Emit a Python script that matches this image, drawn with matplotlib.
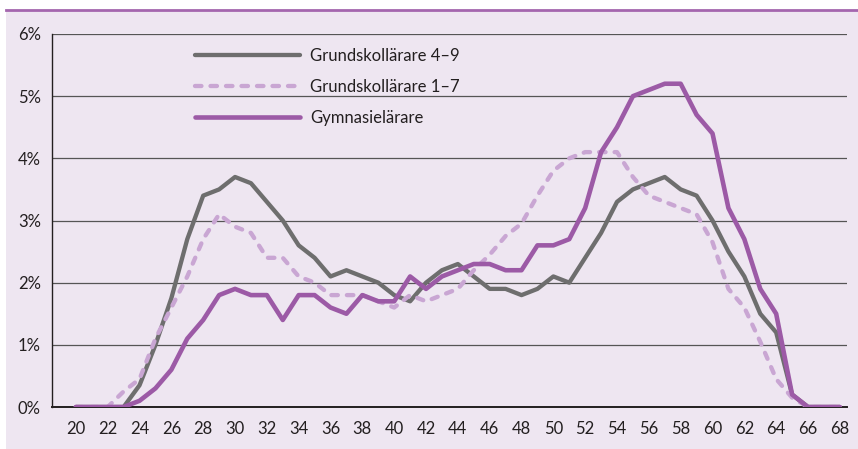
import numpy as np
import matplotlib.pyplot as plt
from matplotlib.patches import Rectangle
from matplotlib.lines import Line2D

# ålder 20-68
alder = np.arange(20, 69)

grund_4_9 = [0, 0, 0, 0, 0.35, 1.0, 1.75, 2.7, 3.4, 3.5,
             3.7, 3.6, 3.3, 3.0, 2.6, 2.4, 2.1, 2.2, 2.1, 2.0,
             1.8, 1.7, 2.0, 2.2, 2.3, 2.1, 1.9, 1.9, 1.8, 1.9,
             2.1, 2.0, 2.4, 2.8, 3.3, 3.5, 3.6, 3.7, 3.5, 3.4,
             3.0, 2.5, 2.1, 1.5, 1.2, 0.2, 0, 0, 0]
grund_1_7 = [0, 0, 0, 0.25, 0.45, 1.1, 1.6, 2.1, 2.7, 3.1,
             2.9, 2.8, 2.4, 2.4, 2.1, 2.0, 1.8, 1.8, 1.8, 1.7,
             1.6, 1.8, 1.7, 1.8, 1.9, 2.2, 2.45, 2.75, 2.95, 3.4,
             3.8, 4.0, 4.1, 4.1, 4.1, 3.7, 3.4, 3.3, 3.2, 3.1,
             2.65, 1.9, 1.6, 1.05, 0.45, 0.15, 0, 0, 0]
gymnasie = [0, 0, 0, 0, 0.1, 0.3, 0.6, 1.1, 1.4, 1.8,
            1.9, 1.8, 1.8, 1.4, 1.8, 1.8, 1.6, 1.5, 1.8, 1.7,
            1.7, 2.1, 1.9, 2.1, 2.2, 2.3, 2.3, 2.2, 2.2, 2.6,
            2.6, 2.7, 3.2, 4.1, 4.5, 5.0, 5.1, 5.2, 5.2, 4.7,
            4.4, 3.2, 2.7, 1.9, 1.5, 0.2, 0, 0, 0]

etiketter = ['Grundskollärare 4–9', 'Grundskollärare 1–7', 'Gymnasielärare']

plt.rcParams['font.family'] = ['Lato', 'DejaVu Sans']

bg = '#eee6f1'
gra = '#6e6e6e'
ljuslila = '#c9a6d3'
lila = '#9c5aa6'

fig = plt.figure(figsize=(8.58, 4.49), dpi=100)
fig.patch.set_facecolor('white')
# lavendelbakgrund och lila linje överst
fig.patches.append(Rectangle((6 / 858, 0), 1, (449 - 10) / 449, transform=fig.transFigure,
                             facecolor=bg, edgecolor='none', zorder=-2))
fig.lines.append(Line2D([6 / 858, 1], [(449 - 9.5) / 449] * 2, transform=fig.transFigure,
                        color='#a466ae', lw=2, zorder=-1))

ax = fig.add_axes([52 / 858, 42 / 449, 795 / 858, 373 / 449])
ax.set_facecolor('none')
ax.set_zorder(2)

ax.plot(alder, grund_4_9, color=gra, lw=3.1, solid_capstyle='round', label=etiketter[0], zorder=3)
ax.plot(alder, grund_1_7, color=ljuslila, lw=3.1, dashes=(1.5, 2.1), dash_capstyle='round',
        label=etiketter[1], zorder=4)
ax.plot(alder, gymnasie, color=lila, lw=3.3, solid_capstyle='round', label=etiketter[2], zorder=5)

ax.set_xlim(18.5, 68.45)
ax.set_ylim(0, 6)
ax.set_xticks(np.arange(20, 69, 2))
ax.set_yticks(range(0, 7))
ax.set_yticklabels([f'{v}%' for v in range(0, 7)])
ax.tick_params(length=0, labelsize=12, colors='#231f20')
ax.tick_params(axis='x', pad=10)
ax.tick_params(axis='y', pad=8)
ax.grid(axis='y', color='#555555', lw=0.9, zorder=1)
ax.set_axisbelow(True)
for s in ['top', 'right']:
    ax.spines[s].set_visible(False)
ax.spines['left'].set_color('#231f20')
ax.spines['left'].set_linewidth(1)
ax.spines['bottom'].set_color('#231f20')
ax.spines['bottom'].set_linewidth(1.4)

ax.legend(loc='upper left', bbox_to_anchor=(0.18, 0.962), frameon=False, fontsize=12,
          handlelength=6.3, handletextpad=0.6, labelspacing=0.9, borderpad=0,
          borderaxespad=0, labelcolor='#231f20')

fig.savefig('out.png', dpi=100)
